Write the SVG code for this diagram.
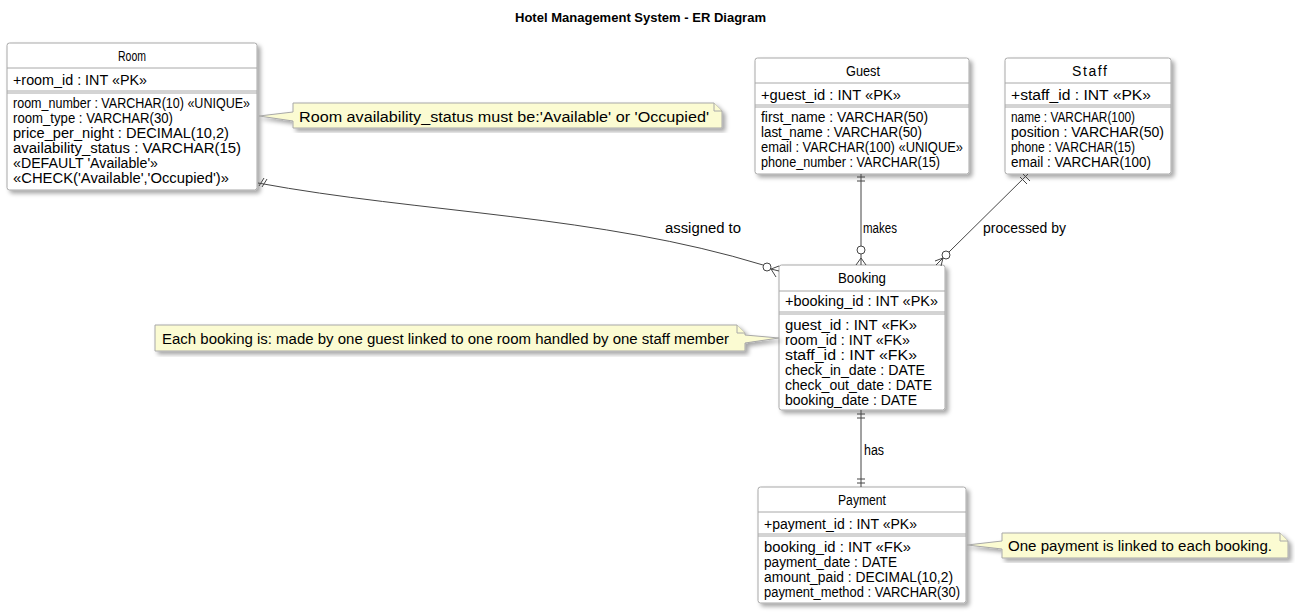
<svg xmlns="http://www.w3.org/2000/svg" width="1295" height="614" viewBox="0 0 1295 614">
<style>
  text { font-family: "Liberation Sans", Arial, sans-serif; font-size: 14px; fill: #000; }
  .title { font-size: 13px; font-weight: bold; }
  .ent { fill: #fff; stroke: #a8a8a8; stroke-width: 1; }
  .sep { stroke: #a8a8a8; stroke-width: 1; }
  .note { fill: #fbfbd2; stroke: #a8a8a8; stroke-width: 1; }
  .conn { fill: none; stroke: #454545; stroke-width: 1; }
  .ctr { text-anchor: middle; }
</style>
<defs>
  <filter id="sh" x="-10%" y="-10%" width="130%" height="130%">
    <feDropShadow dx="3" dy="3" stdDeviation="2" flood-color="#000" flood-opacity="0.35"/>
  </filter>
</defs>
<rect width="1295" height="614" fill="#fff"/>
<text class="title" x="515" y="22" textLength="251" lengthAdjust="spacingAndGlyphs">Hotel Management System - ER Diagram</text>

<g id="room">
  <rect class="ent" x="7" y="43" width="250" height="147" rx="2.5" filter="url(#sh)"/>
  <line class="sep" x1="7" y1="68" x2="257" y2="68"/>
  <line class="sep" x1="7" y1="91" x2="257" y2="91"/>
  <line class="sep" x1="7" y1="93" x2="257" y2="93"/>
  <text x="118" y="61" textLength="28" lengthAdjust="spacingAndGlyphs">Room</text>
  <text x="13" y="85" textLength="134" lengthAdjust="spacingAndGlyphs">+room_id : INT «PK»</text>
  <text x="13" y="108" textLength="237" lengthAdjust="spacingAndGlyphs">room_number : VARCHAR(10) «UNIQUE»</text>
  <text x="13" y="123" textLength="160" lengthAdjust="spacingAndGlyphs">room_type : VARCHAR(30)</text>
  <text x="13" y="138" textLength="216" lengthAdjust="spacingAndGlyphs">price_per_night : DECIMAL(10,2)</text>
  <text x="13" y="153" textLength="228" lengthAdjust="spacingAndGlyphs">availability_status : VARCHAR(15)</text>
  <text x="13" y="168" textLength="145" lengthAdjust="spacingAndGlyphs">«DEFAULT 'Available'»</text>
  <text x="13" y="183" textLength="216" lengthAdjust="spacingAndGlyphs">«CHECK('Available','Occupied')»</text>
</g>

<g id="note-room">
  <path class="note" d="M293,103 H714 L722,111 V128 H293 V121 L259,116 L293,112 Z" filter="url(#sh)"/>
  <path class="note" d="M714,103 V111 H722" fill="none"/>
  <text x="299" y="122" textLength="410" lengthAdjust="spacingAndGlyphs">Room availability_status must be:'Available' or 'Occupied'</text>
</g>

<g id="guest">
  <rect class="ent" x="755" y="58" width="214" height="116" rx="2.5" filter="url(#sh)"/>
  <line class="sep" x1="755" y1="83" x2="969" y2="83"/>
  <line class="sep" x1="755" y1="105" x2="969" y2="105"/>
  <line class="sep" x1="755" y1="107" x2="969" y2="107"/>
  <text x="846" y="76" textLength="34" lengthAdjust="spacingAndGlyphs">Guest</text>
  <text x="761" y="100" textLength="140" lengthAdjust="spacingAndGlyphs">+guest_id : INT «PK»</text>
  <text x="761" y="122" textLength="167" lengthAdjust="spacingAndGlyphs">first_name : VARCHAR(50)</text>
  <text x="761" y="137" textLength="161" lengthAdjust="spacingAndGlyphs">last_name : VARCHAR(50)</text>
  <text x="761" y="152" textLength="202" lengthAdjust="spacingAndGlyphs">email : VARCHAR(100) «UNIQUE»</text>
  <text x="761" y="167" textLength="179" lengthAdjust="spacingAndGlyphs">phone_number : VARCHAR(15)</text>
</g>

<g id="staff">
  <rect class="ent" x="1005" y="58" width="166" height="116" rx="2.5" filter="url(#sh)"/>
  <line class="sep" x1="1005" y1="83" x2="1171" y2="83"/>
  <line class="sep" x1="1005" y1="105" x2="1171" y2="105"/>
  <line class="sep" x1="1005" y1="107" x2="1171" y2="107"/>
  <text x="1072" y="76" textLength="35" lengthAdjust="spacing">Staff</text>
  <text x="1011" y="100" textLength="140" lengthAdjust="spacingAndGlyphs">+staff_id : INT «PK»</text>
  <text x="1011" y="122" textLength="124" lengthAdjust="spacingAndGlyphs">name : VARCHAR(100)</text>
  <text x="1011" y="137" textLength="153" lengthAdjust="spacingAndGlyphs">position : VARCHAR(50)</text>
  <text x="1011" y="152" textLength="124" lengthAdjust="spacingAndGlyphs">phone : VARCHAR(15)</text>
  <text x="1011" y="167" textLength="140" lengthAdjust="spacingAndGlyphs">email : VARCHAR(100)</text>
</g>

<g id="booking">
  <rect class="ent" x="779" y="265" width="166" height="145" rx="2.5" filter="url(#sh)"/>
  <line class="sep" x1="779" y1="291" x2="945" y2="291"/>
  <line class="sep" x1="779" y1="312" x2="945" y2="312"/>
  <line class="sep" x1="779" y1="314" x2="945" y2="314"/>
  <text x="838" y="283" textLength="48" lengthAdjust="spacingAndGlyphs">Booking</text>
  <text x="785" y="306" textLength="153" lengthAdjust="spacingAndGlyphs">+booking_id : INT «PK»</text>
  <text x="785" y="330" textLength="132" lengthAdjust="spacingAndGlyphs">guest_id : INT «FK»</text>
  <text x="785" y="345" textLength="125" lengthAdjust="spacingAndGlyphs">room_id : INT «FK»</text>
  <text x="785" y="360" textLength="132" lengthAdjust="spacingAndGlyphs">staff_id : INT «FK»</text>
  <text x="785" y="375" textLength="140" lengthAdjust="spacingAndGlyphs">check_in_date : DATE</text>
  <text x="785" y="390" textLength="147" lengthAdjust="spacingAndGlyphs">check_out_date : DATE</text>
  <text x="785" y="405" textLength="132" lengthAdjust="spacingAndGlyphs">booking_date : DATE</text>
</g>

<g id="note-booking">
  <path class="note" d="M155,325 H737 L745,333 V335 L779,338 L745,343 V351 H155 Z" filter="url(#sh)"/>
  <path class="note" d="M737,325 V333 H745" fill="none"/>
  <text x="162" y="344" textLength="567" lengthAdjust="spacingAndGlyphs">Each booking is: made by one guest linked to one room handled by one staff member</text>
</g>

<g id="payment">
  <rect class="ent" x="758" y="487" width="208" height="116" rx="2.5" filter="url(#sh)"/>
  <line class="sep" x1="758" y1="512" x2="966" y2="512"/>
  <line class="sep" x1="758" y1="534" x2="966" y2="534"/>
  <line class="sep" x1="758" y1="536" x2="966" y2="536"/>
  <text x="838" y="505" textLength="48" lengthAdjust="spacingAndGlyphs">Payment</text>
  <text x="764" y="529" textLength="153" lengthAdjust="spacingAndGlyphs">+payment_id : INT «PK»</text>
  <text x="764" y="552" textLength="147" lengthAdjust="spacingAndGlyphs">booking_id : INT «FK»</text>
  <text x="764" y="567" textLength="133" lengthAdjust="spacingAndGlyphs">payment_date : DATE</text>
  <text x="764" y="582" textLength="189" lengthAdjust="spacingAndGlyphs">amount_paid : DECIMAL(10,2)</text>
  <text x="764" y="597" textLength="196" lengthAdjust="spacingAndGlyphs">payment_method : VARCHAR(30)</text>
</g>

<g id="note-payment">
  <path class="note" d="M1002,533 H1280 L1288,541 V558 H1002 V549 L967,545 L1002,541 Z" filter="url(#sh)"/>
  <path class="note" d="M1280,533 V541 H1288" fill="none"/>
  <text x="1008" y="551" textLength="264" lengthAdjust="spacingAndGlyphs">One payment is linked to each booking.</text>
</g>

<g id="connectors">
  <!-- Room - Booking -->
  <path class="conn" d="M258,183 C420,213 600,215 763,265"/>
  <path class="conn" d="M259,186 L264,178 M262,187 L267,179"/>
  <circle class="conn" cx="767" cy="267" r="4" fill="#fff"/>
  <path class="conn" d="M771,269 L779,266 M771,269 L779,271 M771,269 L776,277"/>
  <text x="665" y="233" textLength="76" lengthAdjust="spacingAndGlyphs">assigned to</text>

  <!-- Guest - Booking -->
  <path class="conn" d="M861,174 V246"/>
  <path class="conn" d="M857,177 H865 M857,181 H865"/>
  <circle class="conn" cx="861" cy="250" r="4" fill="#fff"/>
  <path class="conn" d="M861,254 V265 M861,258 L856,265 M861,258 L866,265"/>
  <text x="863" y="233" textLength="34" lengthAdjust="spacingAndGlyphs">makes</text>

  <!-- Staff - Booking -->
  <path class="conn" d="M1028,174 L949,252"/>
  <path class="conn" d="M1020,177 L1027,184 M1023,174 L1030,181"/>
  <circle class="conn" cx="946" cy="255" r="4" fill="#fff"/>
  <path class="conn" d="M943,258 L936,265 M943,258 L935,261 M943,258 L941,266"/>
  <text x="983" y="233" textLength="83" lengthAdjust="spacingAndGlyphs">processed by</text>

  <!-- Booking - Payment -->
  <path class="conn" d="M861,410 V487"/>
  <path class="conn" d="M857,414 H865 M857,418 H865 M857,479 H865 M857,483 H865"/>
  <text x="864" y="455" textLength="20" lengthAdjust="spacingAndGlyphs">has</text>
</g>
</svg>
